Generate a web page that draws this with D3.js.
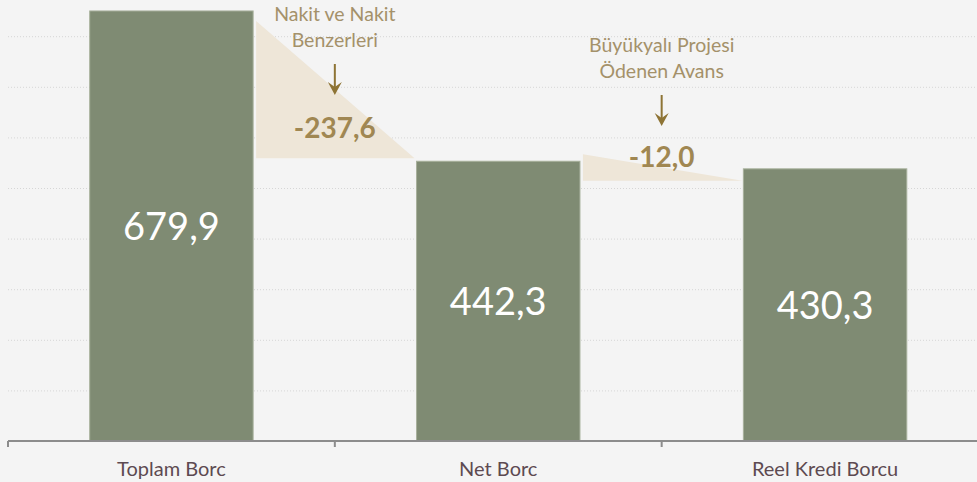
<!DOCTYPE html>
<html>
<head>
<meta charset="utf-8">
<script src="https://cdn.jsdelivr.net/npm/d3@7"></script>
<style>
  html, body { margin: 0; padding: 0; background: #f4f4f4; }
  svg { display: block; font-family: Lato, "Open Sans", sans-serif; }
</style>
</head>
<body>
<svg id="chart" width="977" height="482"></svg>
<script>
// ---- data ----
const categories = ["Toplam Borc", "Net Borc", "Reel Kredi Borcu"];
const values = [679.9, 442.3, 430.3];
const valueLabels = ["679,9", "442,3", "430,3"];
const changeValues = [-237.6, -12.0];
const changeLabels = ["-237,6", "-12,0"];
const changeTitles = [["Nakit ve Nakit", "Benzerleri"], ["Büyükyalı Projesi", "Ödenen Avans"]];
const gridTicks = [80, 160, 240, 320, 400, 480, 560, 640];

// ---- layout ----
const W = 977, H = 482;
const axisY = 441, gridLeft = 8;
const svg = d3.select("#chart");

const x = d3.scaleBand().domain(categories).range([8, 988.5]).paddingInner(0.5).paddingOuter(0.25);
const y = d3.scaleLinear().domain([0, 720]).range([axisY, axisY - 720 * 0.6325]);

// gridlines
const grid = svg.append("g").attr("transform", `translate(${gridLeft},0)`)
  .call(d3.axisLeft(y).tickValues(gridTicks).tickSize(-(W - gridLeft)).tickFormat(""));
grid.select(".domain").remove();
grid.selectAll(".tick line").attr("stroke", "#d6d6d6").attr("stroke-width", 1)
  .attr("stroke-dasharray", "1,2");

// connector triangles
const bw = x.bandwidth();
const tri = [
  [[x(categories[0]) + bw + 3, y(values[0]) + 10], [x(categories[0]) + bw + 3, y(values[1]) - 3], [x(categories[1]) - 2, y(values[1]) - 3]],
  [[x(categories[1]) + bw + 3, y(values[1]) - 7], [x(categories[1]) + bw + 3, y(values[2]) + 12], [x(categories[2]) - 1, y(values[2]) + 12]]
];
svg.append("g").selectAll("path").data(tri).join("path")
  .attr("d", d => d3.line()(d) + "Z")
  .attr("fill", "#eee6d8");

// bars
svg.append("g").selectAll("rect").data(values).join("rect")
  .attr("x", (d, i) => x(categories[i]))
  .attr("width", bw)
  .attr("y", d => y(d))
  .attr("height", d => y(0) - y(d))
  .attr("fill", "#7f8b73")
  .attr("stroke", "#a7b09b")
  .attr("stroke-width", 1);

// value labels
svg.append("g").selectAll("text").data(values).join("text")
  .attr("x", (d, i) => x(categories[i]) + bw / 2)
  .attr("y", d => (y(d) + y(0)) / 2 + 14)
  .attr("text-anchor", "middle")
  .attr("fill", "#ffffff")
  .attr("font-size", 38)
  .text((d, i) => valueLabels[i]);

// axis
const xAxis = svg.append("g").attr("transform", `translate(0,${axisY})`)
  .call(d3.axisBottom(x).tickSize(0).tickPadding(21));
xAxis.select(".domain").attr("d", `M${gridLeft},0H${W}`).attr("stroke", "#8c8c8c").attr("stroke-width", 2);
xAxis.selectAll(".tick text").attr("font-size", 20).attr("fill", "#5d4a51")
  .attr("font-family", "Lato, sans-serif");
const boundaries = categories.map(c => x(c) - x.step() * x.paddingInner() / 2 - (c === categories[0] ? (x.step() * (x.paddingOuter() - x.paddingInner() / 2)) : 0));
svg.append("g").selectAll("line").data(boundaries).join("line")
  .attr("x1", d => d).attr("x2", d => d)
  .attr("y1", axisY).attr("y2", axisY + 6)
  .attr("stroke", "#8c8c8c").attr("stroke-width", 2);

// change annotations
const annX = [x(categories[1]) - (x.step() - bw) / 2, x(categories[2]) - (x.step() - bw) / 2];
const annTop = [21, 52];
const annValY = [138, 167];
const gold = "#a4916a";
changeValues.forEach((v, i) => {
  const g = svg.append("g");
  const cx = annX[i];
  g.append("text").attr("x", cx).attr("y", annTop[i]).attr("text-anchor", "middle")
    .attr("fill", gold).attr("font-size", 19.5).text(changeTitles[i][0]);
  g.append("text").attr("x", cx).attr("y", annTop[i] + 25.5).attr("text-anchor", "middle")
    .attr("fill", gold).attr("font-size", 19.5).text(changeTitles[i][1]);
  const a0 = annTop[i] + 43, a1 = annTop[i] + 74;
  g.append("line").attr("x1", cx).attr("x2", cx).attr("y1", a0).attr("y2", a1 - 6)
    .attr("stroke", "#8e7435").attr("stroke-width", 2);
  g.append("path")
    .attr("d", `M${cx - 7},${a1 - 13}L${cx},${a1}L${cx + 7},${a1 - 13}L${cx},${a1 - 8}Z`)
    .attr("fill", "#8e7435");
  g.append("text").attr("x", cx).attr("y", annValY[i]).attr("text-anchor", "middle")
    .attr("fill", "#a08752").attr("font-size", 28).attr("font-weight", "bold")
    .text(changeLabels[i]);
});
</script>
</body>
</html>
